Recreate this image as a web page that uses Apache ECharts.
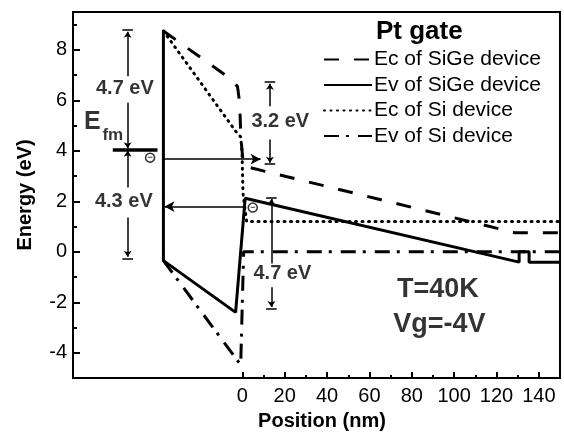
<!DOCTYPE html>
<html>
<head>
<meta charset="utf-8">
<script src="https://cdn.jsdelivr.net/npm/echarts@6/dist/echarts.min.js"></script>
<style>html,body{margin:0;padding:0;background:#fff;}#c{width:564px;height:436px;}</style>
</head>
<body>
<div id="c"></div>
<script>
// ---- data ----
const xTickValues = [0, 20, 40, 60, 80, 100, 120, 140];
const xMinorTicks = [10, 30, 50, 70, 90, 110, 130];
const yTickValues = [-4, -2, 0, 2, 4, 6, 8];
const yMinorTicks = [-3, -1, 1, 3, 5, 7, 9];

const seriesNames = ['Ec of SiGe device', 'Ev of SiGe device', 'Ec of Si device', 'Ev of Si device'];

const xEcSiGe = [-37.3, -8.4, -2.3, -1.3, -0.7, 0.5, 129, 150];
const yEcSiGe = [8.75, 7.02, 6.55, 5.9, 4.5, 3.4, 0.75, 0.75];

const xEvSiGe = [-37.3, -37.3, -3.2, 1.3, 130.7, 130.7, 135.4, 135.4, 150];
const yEvSiGe = [8.75, -0.35, -2.4, 2.12, -0.41, 0.0, 0.0, -0.41, -0.41];

const xEcSi = [-37.3, -3.2, -0.8, -0.2, 0.3, 2.0, 150];
const yEcSi = [8.75, 4.78, 4.55, 4.0, 2.3, 1.2, 1.2];

const xEvSi = [-37.3, -0.8, 0.6, 150];
const yEvSi = [-0.35, -4.48, 0.0, 0.0];

// annotation texts (data coordinates)
const bracketTexts = ['4.7 eV', '4.3 eV', '3.2 eV', '4.7 eV'];
const bracketTextX = [-55.5, -56, 17.9, 18.9];
const bracketTextY = [6.48, 1.98, 5.17, -0.87];

const condTexts = ['T=40K', 'Vg=-4V'];
const condX = [92.3, 93];
const condY = [-1.51, -2.89];

// bracket segments: x1, y1, x2, y2, arrow at end (1/0)
const segments = [
  [-54.2, 6.95, -54.2, 8.72, 1],
  [-54.2, 5.9, -54.2, 4.1, 1],
  [-54.2, 2.55, -54.2, 4.0, 1],
  [-54.2, 1.36, -54.2, -0.2, 1],
  [13.0, 5.77, 13.0, 6.66, 1],
  [13.0, 4.45, 13.0, 3.53, 1],
  [13.7, -0.46, 13.7, 2.09, 1],
  [13.7, -1.4, 13.7, -2.19, 1]
];
// bar ends: x centre, y
const barX = [-54.2, -54.2, 13.0, 13.0, 13.7, 13.7];
const barY = [8.79, -0.26, 6.72, 3.47, 2.15, -2.25];
const barHalf = 2.5;

// electron transfer arrows: x1, y1, x2, y2
const transferArrows = [
  [-37.3, 3.67, 8.6, 3.67],
  [0.6, 1.79, -36.8, 1.79]
];
// metal Fermi level line
const efmX = [-61.2, -40.1];
const efmY = 4.03;
const electronsX = [-43.6, 4.9];
const electronsY = [3.73, 1.75];

// ---- build ----
const zip = (xs, ys) => xs.map((x, i) => [x, ys[i]]);
const FONT = 'Liberation Sans';

const markLines = [];
segments.forEach(s => {
  markLines.push([
    {coord: [s[0], s[1]], symbol: 'none', lineStyle: {color: '#000', width: 1.5, type: 'solid'}},
    {coord: [s[2], s[3]], symbol: s[4] ? 'arrow' : 'none', symbolSize: 6}
  ]);
});
barX.forEach((x, i) => {
  markLines.push([
    {coord: [x - barHalf, barY[i]], symbol: 'none', lineStyle: {color: '#000', width: 1.5, type: 'solid'}},
    {coord: [x + barHalf, barY[i]], symbol: 'none'}
  ]);
});
transferArrows.forEach(a => {
  markLines.push([
    {coord: [a[0], a[1]], symbol: 'none', lineStyle: {color: '#000', width: 1.5, type: 'solid'}},
    {coord: [a[2], a[3]], symbol: 'arrow', symbolSize: [8, 10]}
  ]);
});
markLines.push([
  {coord: [efmX[0], efmY], symbol: 'none', lineStyle: {color: '#000', width: 3.5, type: 'solid'}},
  {coord: [efmX[1], efmY], symbol: 'none'}
]);

const textPoints = [];
bracketTexts.forEach((t, i) => textPoints.push({value: [bracketTextX[i], bracketTextY[i]], label: {formatter: t, fontSize: 20, fontWeight: 'bold'}}));
condTexts.forEach((t, i) => textPoints.push({value: [condX[i], condY[i]], label: {formatter: t, fontSize: 27, fontWeight: 'bold'}}));
textPoints.push({value: [-70.9, 5.13], label: {formatter: 'E', fontSize: 25, fontWeight: 'bold'}});
textPoints.push({value: [-61.2, 4.6], label: {formatter: 'fm', fontSize: 17, fontWeight: 'bold'}});

const lineSeries = [
  {name: seriesNames[0], xs: xEcSiGe, ys: yEcSiGe, ls: {width: 3, type: [15, 15], cap: 'butt'}},
  {name: seriesNames[1], xs: xEvSiGe, ys: yEvSiGe, ls: {width: 3, type: 'solid'}},
  {name: seriesNames[2], xs: xEcSi, ys: yEcSi, ls: {width: 3, type: [1, 5.5], cap: 'round'}},
  {name: seriesNames[3], xs: xEvSi, ys: yEvSi, ls: {width: 3, type: [15, 7, 3, 9], cap: 'butt'}}
].map(s => ({
  name: s.name, type: 'line', data: zip(s.xs, s.ys), symbol: 'none', showSymbol: false,
  xAxisIndex: 0, yAxisIndex: 0,
  lineStyle: Object.assign({color: '#000'}, s.ls),
  itemStyle: {color: '#000'},
  silent: true, animation: false, z: 3
}));

const chart = echarts.init(document.getElementById('c'), null, {renderer: 'canvas'});
chart.setOption({
  backgroundColor: '#fff',
  animation: false,
  textStyle: {fontFamily: FONT, color: '#000'},
  grid: {left: 73, right: 4, top: 12, bottom: 58, show: true, borderColor: '#000', borderWidth: 2, containLabel: false},
  title: {
    text: 'Pt gate', left: 371, top: 14,
    textStyle: {fontFamily: FONT, fontSize: 26, fontWeight: 'bold', color: '#000'}
  },
  legend: {
    data: seriesNames, orient: 'vertical', left: 318, top: 44,
    itemWidth: 48, itemHeight: 14, itemGap: 4.5,
    itemStyle: {opacity: 0},
    textStyle: {fontFamily: FONT, fontSize: 21, color: '#000', lineHeight: 21, padding: [0, 0, 0, -3]},
    selectedMode: false
  },
  xAxis: [
    {
      type: 'value', min: -80, max: 150, position: 'bottom',
      name: 'Position (nm)', nameLocation: 'middle', nameGap: 33,
      nameTextStyle: {fontFamily: FONT, fontSize: 20, fontWeight: 'bold', color: '#000', padding: [0, 0, 0, 11]},
      axisLine: {show: true, onZero: false, lineStyle: {color: '#000', width: 2}},
      axisTick: {show: true, inside: true, length: 6, lineStyle: {color: '#000', width: 2}, customValues: xTickValues},
      axisLabel: {show: true, fontSize: 20, color: '#000', margin: 8, customValues: xTickValues},
      splitLine: {show: false}
    },
    {
      type: 'value', min: -80, max: 150, position: 'bottom',
      axisLine: {show: false, onZero: false},
      axisTick: {show: true, inside: true, length: 3, lineStyle: {color: '#000', width: 2}, customValues: xMinorTicks},
      axisLabel: {show: false},
      splitLine: {show: false}
    }
  ],
  yAxis: [
    {
      type: 'value', min: -5, max: 9.5, position: 'left',
      name: 'Energy (eV)', nameLocation: 'middle', nameGap: 38, nameRotate: 90,
      nameTextStyle: {fontFamily: FONT, fontSize: 20, fontWeight: 'bold', color: '#000'},
      axisLine: {show: true, onZero: false, lineStyle: {color: '#000', width: 2}},
      axisTick: {show: true, inside: true, length: 7, lineStyle: {color: '#000', width: 2}, customValues: yTickValues},
      axisLabel: {show: true, fontSize: 20, color: '#000', margin: 6, customValues: yTickValues},
      splitLine: {show: false}
    },
    {
      type: 'value', min: -5, max: 9.5, position: 'left',
      axisLine: {show: false, onZero: false},
      axisTick: {show: true, inside: true, length: 4, lineStyle: {color: '#000', width: 2}, customValues: yMinorTicks},
      axisLabel: {show: false},
      splitLine: {show: false}
    }
  ],
  series: lineSeries.concat([
    {
      name: 'annotations', type: 'scatter', data: textPoints, symbolSize: 1,
      itemStyle: {color: 'rgba(0,0,0,0)'},
      label: {show: true, position: 'inside', color: '#000', fontFamily: FONT},
      silent: true, animation: false, z: 5,
      markLine: {silent: true, animation: false, label: {show: false}, symbol: ['none', 'none'], data: markLines, z: 4}
    },
    {
      name: 'electrons', type: 'scatter', data: zip(electronsX, electronsY), symbol: 'circle', symbolSize: 9,
      itemStyle: {color: '#fff', borderColor: '#000', borderWidth: 1.5},
      label: {show: true, position: 'inside', formatter: '−', fontSize: 9, fontWeight: 'bold', color: '#000', fontFamily: FONT},
      silent: true, animation: false, z: 6
    }
  ])
});
</script>
</body>
</html>
